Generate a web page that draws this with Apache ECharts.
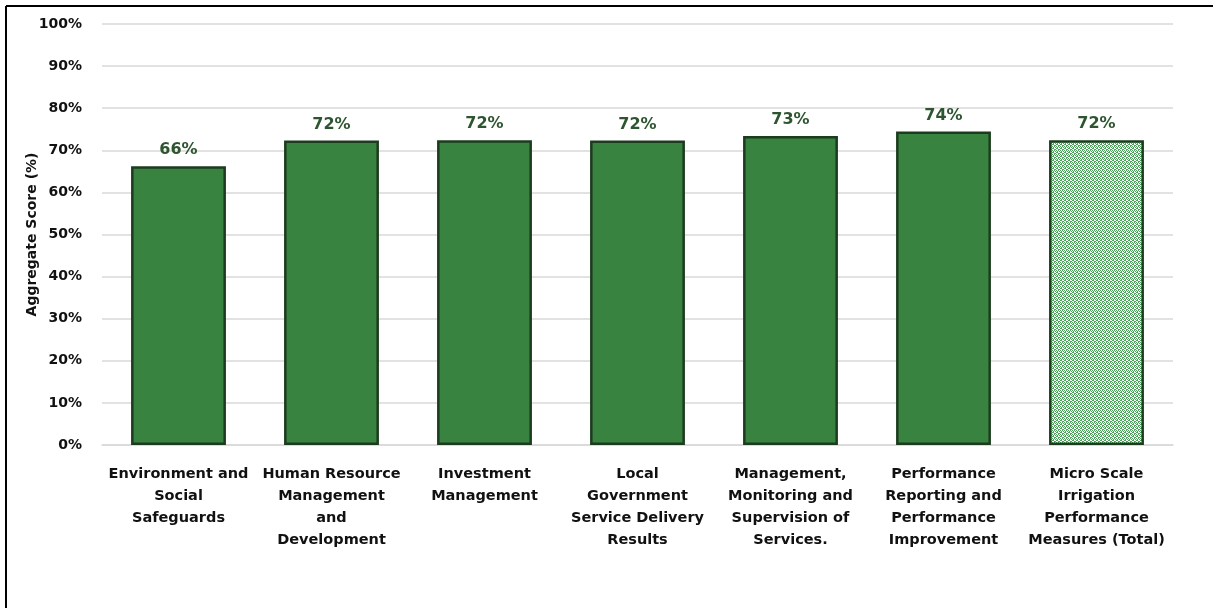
<!DOCTYPE html>
<html>
<head>
<meta charset="utf-8">
<title>Aggregate Score by Performance Area</title>
<script src="https://cdn.jsdelivr.net/npm/echarts@6/dist/echarts.min.js"></script>
<style>
  html, body { margin: 0; padding: 0; background: #ffffff; }
  #chart { width: 1213px; height: 608px; }
</style>
</head>
<body>
<div id="chart"></div>
<script>
// Performance areas (line breaks as laid out under each bar)
const categories = [
  'Environment and\nSocial\nSafeguards',
  'Human Resource\nManagement\nand\nDevelopment',
  'Investment\nManagement',
  'Local\nGovernment\nService Delivery\nResults',
  'Management,\nMonitoring and\nSupervision of\nServices.',
  'Performance\nReporting and\nPerformance\nImprovement',
  'Micro Scale\nIrrigation\nPerformance\nMeasures (Total)'
];

// Aggregate scores in percent
const scores = [66.2, 72.3, 72.4, 72.3, 73.4, 74.49, 72.4];

// Y axis ticks
const yTicks = [0, 10, 20, 30, 40, 50, 60, 70, 80, 90, 100];

const FONT = '"DejaVu Sans", sans-serif';
const BAR_GREEN = '#37833f';
const BAR_EDGE = '#1d3b1e';

// Dotted green texture for the total bar
function makePattern() {
  const c = document.createElement('canvas');
  c.width = 4; c.height = 4;
  const g = c.getContext('2d');
  g.fillStyle = '#ffffff';
  g.fillRect(0, 0, 4, 4);
  g.fillStyle = '#4ea45d';
  const dots = [[0,0],[1,0],[2,1],[3,1],[0,2],[1,3],[2,2],[3,3]];
  dots.forEach(([x, y]) => g.fillRect(x, y, 1, 1));
  return c;
}

const pattern = makePattern();
const barData = scores.map((v, i) => {
  if (i === scores.length - 1) {
    return { value: v, itemStyle: { color: { image: pattern, repeat: 'repeat' } } };
  }
  return v;
});

const chart = echarts.init(document.getElementById('chart'), null, { renderer: 'canvas' });

chart.setOption({
  animation: false,
  backgroundColor: '#ffffff',
  grid: { left: 102, right: 40, top: 24, bottom: 163, containLabel: false },
  graphic: [
    { type: 'line', shape: { x1: 6, y1: 6, x2: 1213, y2: 6 }, style: { stroke: '#000000', lineWidth: 2 } },
    { type: 'line', shape: { x1: 6, y1: 6, x2: 6, y2: 608 }, style: { stroke: '#000000', lineWidth: 2 } }
  ],
  xAxis: {
    type: 'category',
    data: categories,
    axisLine: { show: true, lineStyle: { color: '#d9d9d9', width: 1.5 } },
    axisTick: { show: false },
    axisLabel: {
      interval: 0,
      margin: 18,
      color: '#111111',
      fontFamily: FONT,
      fontWeight: 'bold',
      fontSize: 14.5,
      lineHeight: 22,
      align: 'center'
    }
  },
  yAxis: {
    type: 'value',
    min: yTicks[0],
    max: yTicks[yTicks.length - 1],
    interval: 10,
    name: 'Aggregate Score (%)',
    nameLocation: 'middle',
    nameGap: 63,
    nameMoveOverlap: false,
    nameRotate: 90,
    nameTextStyle: { color: '#111111', fontFamily: FONT, fontWeight: 'bold', fontSize: 14 },
    axisLine: { show: false },
    axisTick: { show: false },
    splitLine: { show: true, lineStyle: { color: '#d9d9d9', width: 1.5 } },
    axisLabel: {
      margin: 20,
      color: '#111111',
      fontFamily: FONT,
      fontWeight: 'bold',
      fontSize: 14,
      formatter: v => v + '%'
    }
  },
  series: [{
    type: 'bar',
    data: barData,
    barWidth: '62%',
    itemStyle: { color: BAR_GREEN, borderColor: BAR_EDGE, borderWidth: 2.5 },
    label: {
      show: true,
      position: 'top',
      distance: 8,
      color: '#2e5530',
      fontFamily: FONT,
      fontWeight: 'bold',
      fontSize: 16,
      formatter: p => Math.round(p.value) + '%'
    }
  }]
});
</script>
</body>
</html>
